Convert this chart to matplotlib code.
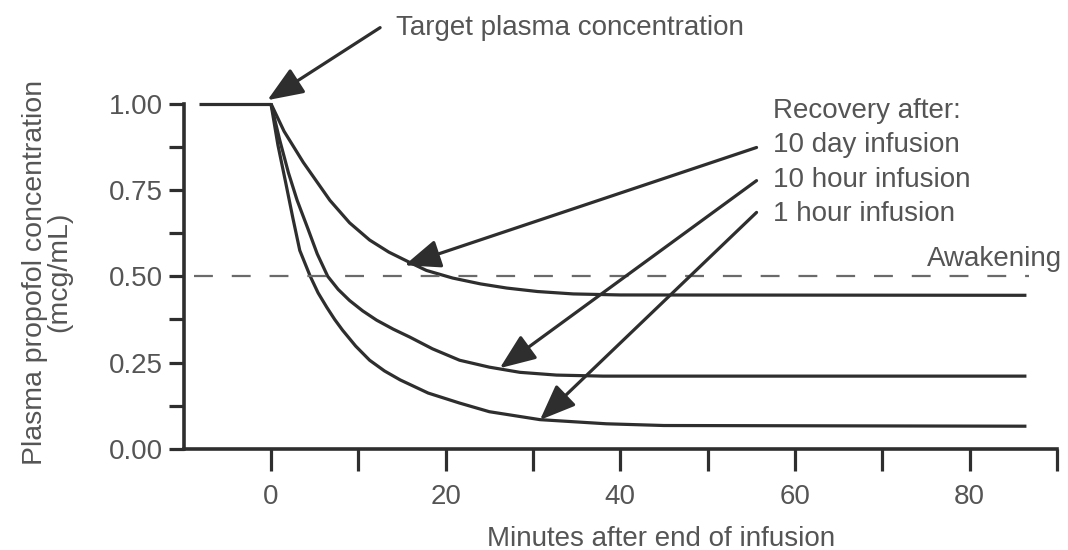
import matplotlib
matplotlib.use("Agg")
import matplotlib.pyplot as plt
from matplotlib.ticker import FixedLocator

plt.rcParams['font.family'] = ['Liberation Sans', 'DejaVu Sans']

# Target plateau before end of infusion
t_target = [-8.2, 0]
c_target = [1.0, 1.0]

# Recovery curves (minutes, mcg/mL)
t_1h = [0, 0.8, 1.7, 2.5, 3.3, 4.5, 5.4, 6.4, 7.3, 8.2, 9.7, 11.3, 13.0, 14.8, 18.0, 21.6, 25.0, 30.8, 38.4, 45.0, 86.5]
c_1h = [1.0, 0.88, 0.77, 0.67, 0.575, 0.50, 0.452, 0.41, 0.375, 0.344, 0.298, 0.257, 0.226, 0.20, 0.162, 0.133, 0.108, 0.085, 0.073, 0.068, 0.066]

t_10h = [0, 1.0, 2.0, 3.0, 4.2, 5.3, 6.5, 7.7, 9.0, 10.5, 12.1, 14.0, 15.9, 18.5, 21.6, 25.0, 28.5, 32.7, 38.0, 86.5]
c_10h = [1.0, 0.895, 0.80, 0.72, 0.64, 0.565, 0.50, 0.462, 0.43, 0.40, 0.373, 0.347, 0.324, 0.29, 0.257, 0.237, 0.222, 0.214, 0.211, 0.211]

t_10d = [0, 1.5, 3.7, 6.75, 9.0, 11.3, 13.5, 15.9, 17.8, 20.8, 24.0, 27.0, 30.5, 34.6, 40.0, 86.5]
c_10d = [1.0, 0.92, 0.83, 0.72, 0.655, 0.605, 0.57, 0.54, 0.517, 0.495, 0.478, 0.466, 0.456, 0.449, 0.446, 0.445]

awake_level = 0.5
awake_span = [-8.8, 86.8]

x_major = [0, 20, 40, 60, 80]
x_minor = [10, 30, 50, 70, 90]
y_major = [0.0, 0.25, 0.50, 0.75, 1.00]
y_minor = [0.125, 0.375, 0.625, 0.875]

labels = ['Recovery after:', '10 day infusion', '10 hour infusion', '1 hour infusion']

line_col = '#2e2e2e'
text_col = '#555555'
fs = 20

fig = plt.figure(figsize=(10.68, 5.5), dpi=100)
ax = fig.add_axes([183.6 / 1068, 1 - 449 / 550, (1057 - 183.6) / 1068, 449 / 550])
ax.set_xlim(-10, 90)
ax.set_ylim(0, 1.3)

for s in ['top', 'right']:
    ax.spines[s].set_visible(False)
for s in ['left', 'bottom']:
    ax.spines[s].set_linewidth(2.6)
    ax.spines[s].set_color(line_col)
ax.spines['left'].set_bounds(0, 1.0)
ax.spines['bottom'].set_bounds(-10, 90)

# Curves
kw = dict(color=line_col, lw=2.3, solid_capstyle='butt', solid_joinstyle='round', clip_on=False)
ax.plot(t_target, c_target, **kw)
ax.plot(t_1h, c_1h, **kw)
ax.plot(t_10h, c_10h, **kw)
ax.plot(t_10d, c_10d, **kw)
ax.plot(awake_span, [awake_level, awake_level], color='#6a6a6a', lw=1.6, dashes=(8.5, 8.5))

# Ticks
ax.xaxis.set_major_locator(FixedLocator(x_major))
ax.xaxis.set_minor_locator(FixedLocator(x_minor))
ax.yaxis.set_major_locator(FixedLocator(y_major))
ax.yaxis.set_minor_locator(FixedLocator(y_minor))
ax.set_yticklabels([f'{v:.2f}' for v in y_major])
ax.tick_params(axis='both', which='both', direction='out', color=line_col, width=2.3)
ax.tick_params(axis='x', which='both', length=16, pad=9)
ax.tick_params(axis='y', which='both', length=11, pad=4)
ax.tick_params(axis='both', which='major', labelsize=fs, labelcolor=text_col)

ax.set_xlabel('Minutes after end of infusion', fontsize=fs, color=text_col)
ax.xaxis.set_label_coords(0.547, -0.171)
ax.set_ylabel('Plasma propofol concentration\n(mcg/mL)', fontsize=20.5, color=text_col,
              linespacing=0.95)
ax.yaxis.set_label_coords(-0.127, 0.394)

# Annotations
arrow = dict(arrowstyle='-|>,head_length=1.0,head_width=0.4', color=line_col, lw=2.3,
             mutation_scale=22, shrinkA=0, shrinkB=0)
ax.annotate('', xy=(-0.4, 1.01), xytext=(12.5, 1.22), arrowprops=arrow, annotation_clip=False)
ax.text(14.3, 1.22, 'Target plasma concentration', fontsize=fs, color=text_col,
        va='center', ha='left')

ax.text(57.5, 0.98, labels[0], fontsize=fs, color=text_col, va='center', ha='left')
ax.text(57.5, 0.88, labels[1], fontsize=fs, color=text_col, va='center', ha='left')
ax.text(57.5, 0.78, labels[2], fontsize=fs, color=text_col, va='center', ha='left')
ax.text(57.5, 0.68, labels[3], fontsize=fs, color=text_col, va='center', ha='left')

ax.annotate('', xy=(15.3, 0.532), xytext=(55.6, 0.873), arrowprops=arrow)
ax.annotate('', xy=(26.2, 0.234), xytext=(55.6, 0.777), arrowprops=arrow)
ax.annotate('', xy=(30.8, 0.084), xytext=(55.6, 0.685), arrowprops=arrow)

ax.text(90.6, 0.55, 'Awakening', fontsize=fs, color=text_col, va='center', ha='right')

fig.savefig('out.png', dpi=100)
